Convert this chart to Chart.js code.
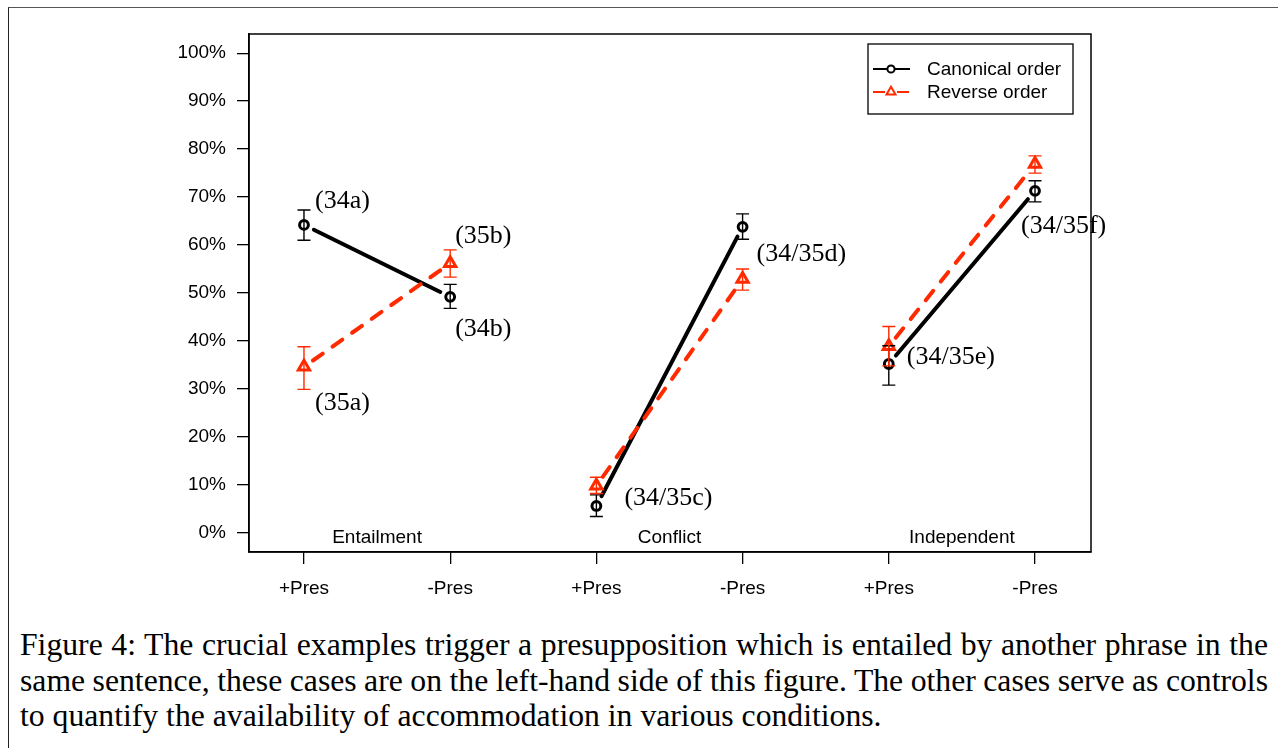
<!DOCTYPE html>
<html>
<head>
<meta charset="utf-8">
<script src="https://cdn.jsdelivr.net/npm/chart.js@4.4.1/dist/chart.umd.min.js"></script>
<style>
  html, body { margin: 0; padding: 0; background: #fff; width: 1278px; height: 748px; overflow: hidden; }
  #frame { position: absolute; left: 8px; top: 7px; width: 1300px; height: 800px;
           border-left: 1.5px solid #222; border-top: 1.5px solid #555; }
  #wrap { position: absolute; left: 0; top: 0; width: 1278px; height: 620px; }
  #cap { position: absolute; left: 20px; top: 627px; width: 1248px;
         font-family: "Liberation Serif", "Times New Roman", serif; font-size: 31.7px;
         line-height: 35.5px; color: #000; }
  #cap .j { text-align: justify; text-align-last: justify; word-spacing: -4px; }
</style>
</head>
<body>
<div id="frame"></div>
<div id="wrap"><canvas id="c" width="1278" height="620"></canvas></div>
<div id="cap">
  <div class="j">Figure 4: The crucial examples trigger a presupposition which is entailed by another phrase in the</div>
  <div class="j">same sentence, these cases are on the left-hand side of this figure. The other cases serve as controls</div>
  <div>to quantify the availability of accommodation in various conditions.</div>
</div>
<script>
// ---- data ----
const categories = ['+Pres', '-Pres', '+Pres', '-Pres', '+Pres', '-Pres'];
const groupNames = ['Entailment', 'Conflict', 'Independent'];
const seriesNames = ['Canonical order', 'Reverse order'];
const canonical     = [64.2, 49.2, 5.6, 63.8, 35.2, 71.3];
const canonicalLow  = [61.0, 46.8, 3.4, 61.2, 30.8, 69.0];
const canonicalHigh = [67.3, 51.8, 7.9, 66.5, 39.0, 73.4];
const reverse       = [34.6, 56.2, 9.8, 52.9, 38.9, 76.9];
const reverseLow    = [29.9, 53.3, 8.2, 50.6, 34.8, 75.0];
const reverseHigh   = [38.8, 59.0, 11.6, 55.0, 43.0, 78.6];
const yTickValues = [0, 10, 20, 30, 40, 50, 60, 70, 80, 90, 100];
const canonicalLabels = ['(34a)', '(34b)', '(34/35c)', '(34/35d)', '(34/35e)', '(34/35f)'];
const reverseLabels   = ['(35a)', '(35b)', null, null, null, null];
const segments = [[0, 1], [2, 3], [4, 5]];

// ---- styles ----
const RED = '#ff2a00';
const BLACK = '#000000';
const SANS = '"Liberation Sans", Arial, Helvetica, sans-serif';
const SERIF = '"Liberation Serif", "Times New Roman", serif';
const canonicalLabelOffsets = [[11, -17], [5, 39], [28, -1], [14, 34], [18, 0], [-14, 42]];
const reverseLabelOffsets   = [[11, 43], [5, -20], null, null, null, null];

const toXY = arr => arr.map((v, i) => ({ x: i + 1, y: v }));

function trimmedSegment(ctx, p0, p1, trim) {
  const dx = p1.x - p0.x, dy = p1.y - p0.y;
  const len = Math.sqrt(dx * dx + dy * dy);
  const ux = dx / len, uy = dy / len;
  ctx.beginPath();
  ctx.moveTo(p0.x + ux * trim, p0.y + uy * trim);
  ctx.lineTo(p1.x - ux * trim, p1.y - uy * trim);
  ctx.stroke();
}

const figurePlugin = {
  id: 'figure',
  beforeDatasetsDraw(chart) {
    const { ctx, scales: { x, y } } = chart;
    const series = [
      { vals: canonical, color: BLACK, dash: [] },
      { vals: reverse, color: RED, dash: [12, 12] }
    ];
    ctx.save();
    series.forEach(s => {
      ctx.strokeStyle = s.color;
      ctx.lineWidth = 4;
      ctx.lineCap = 'round';
      ctx.setLineDash(s.dash);
      segments.forEach(([a, b]) => {
        const p0 = { x: x.getPixelForValue(a + 1), y: y.getPixelForValue(s.vals[a]) };
        const p1 = { x: x.getPixelForValue(b + 1), y: y.getPixelForValue(s.vals[b]) };
        trimmedSegment(ctx, p0, p1, 11);
      });
    });
    ctx.restore();
  },
  afterDatasetsDraw(chart) {
    const { ctx, scales: { x, y } } = chart;
    ctx.save();
    // error bars
    const bars = [
      { lo: canonicalLow, hi: canonicalHigh, color: BLACK },
      { lo: reverseLow, hi: reverseHigh, color: RED }
    ];
    bars.forEach(b => {
      ctx.strokeStyle = b.color;
      ctx.lineWidth = 1.4;
      ctx.setLineDash([]);
      ctx.lineCap = 'butt';
      b.lo.forEach((lo, i) => {
        const px = x.getPixelForValue(i + 1);
        const y0 = y.getPixelForValue(lo), y1 = y.getPixelForValue(b.hi[i]);
        ctx.beginPath();
        ctx.moveTo(px, y0); ctx.lineTo(px, y1);
        ctx.moveTo(px - 6.5, y0); ctx.lineTo(px + 6.5, y0);
        ctx.moveTo(px - 6.5, y1); ctx.lineTo(px + 6.5, y1);
        ctx.stroke();
      });
    });
    // point labels
    ctx.fillStyle = '#000';
    ctx.font = '26px ' + SERIF;
    ctx.textAlign = 'left';
    ctx.textBaseline = 'alphabetic';
    canonicalLabels.forEach((t, i) => {
      if (!t) return;
      const o = canonicalLabelOffsets[i];
      ctx.fillText(t, x.getPixelForValue(i + 1) + o[0], y.getPixelForValue(canonical[i]) + o[1]);
    });
    reverseLabels.forEach((t, i) => {
      if (!t) return;
      const o = reverseLabelOffsets[i];
      ctx.fillText(t, x.getPixelForValue(i + 1) + o[0], y.getPixelForValue(reverse[i]) + o[1]);
    });
    // group labels
    ctx.font = '19px ' + SANS;
    ctx.textAlign = 'center';
    groupNames.forEach((g, k) => {
      ctx.fillText(g, x.getPixelForValue(2 * k + 1.5), y.getPixelForValue(0) + 10);
    });
    ctx.restore();
  },
  afterDraw(chart) {
    const { ctx, chartArea: ca } = chart;
    ctx.save();
    // plot box
    ctx.strokeStyle = '#000';
    ctx.lineWidth = 1.5;
    ctx.strokeRect(ca.left, ca.top, ca.right - ca.left, ca.bottom - ca.top);
    // legend
    const lx = ca.right - 223, ly = ca.top + 10, lw = 205, lh = 70;
    ctx.lineWidth = 1.3;
    ctx.strokeRect(lx, ly, lw, lh);
    const rows = [
      { name: seriesNames[0], color: BLACK, dash: [], marker: 'circle', yy: ly + 25 },
      { name: seriesNames[1], color: RED, dash: [12, 12], marker: 'triangle', yy: ly + 48 }
    ];
    rows.forEach(r => {
      ctx.strokeStyle = r.color;
      ctx.lineWidth = 2;
      ctx.setLineDash(r.dash);
      ctx.beginPath();
      ctx.moveTo(lx + 5, r.yy); ctx.lineTo(lx + 42, r.yy);
      ctx.stroke();
      ctx.setLineDash([]);
      const cx = lx + 23;
      ctx.beginPath();
      if (r.marker === 'circle') {
        ctx.arc(cx, r.yy, 3.6, 0, Math.PI * 2);
      } else {
        const rr = 5.2;
        ctx.moveTo(cx, r.yy - rr);
        ctx.lineTo(cx + rr * 0.866, r.yy + rr * 0.5);
        ctx.lineTo(cx - rr * 0.866, r.yy + rr * 0.5);
        ctx.closePath();
      }
      ctx.fillStyle = '#fff';
      ctx.fill();
      ctx.stroke();
      ctx.fillStyle = '#000';
      ctx.font = '19px ' + SANS;
      ctx.textAlign = 'left';
      ctx.textBaseline = 'middle';
      ctx.fillText(r.name, lx + 59, r.yy + 1);
    });
    ctx.restore();
  }
};

new Chart(document.getElementById('c'), {
  type: 'scatter',
  data: {
    datasets: [
      {
        label: seriesNames[0],
        data: toXY(canonical),
        showLine: false,
        pointStyle: 'circle',
        pointRadius: 4.4,
        pointBorderWidth: 3,
        pointBorderColor: BLACK,
        pointBackgroundColor: 'rgba(255,255,255,0)'
      },
      {
        label: seriesNames[1],
        data: toXY(reverse),
        showLine: false,
        pointStyle: 'triangle',
        pointRadius: 6.5,
        pointBorderWidth: 3,
        pointBorderColor: RED,
        pointBackgroundColor: 'rgba(255,255,255,0)'
      }
    ]
  },
  options: {
    responsive: false,
    animation: false,
    devicePixelRatio: 1,
    layout: { padding: { left: 0, top: 34, right: 187, bottom: 0 } },
    plugins: { legend: { display: false }, tooltip: { enabled: false } },
    scales: {
      x: {
        type: 'linear',
        min: 0.624,
        max: 6.383,
        afterBuildTicks: s => { s.ticks = categories.map((_, i) => ({ value: i + 1 })); },
        afterFit: s => { s.height = 68; },
        ticks: {
          autoSkip: false, maxRotation: 0, padding: 13,
          color: '#000', font: { family: SANS, size: 19 },
          callback: v => categories[Math.round(v) - 1]
        },
        grid: { drawOnChartArea: false, drawTicks: true, tickLength: 12, color: '#000', lineWidth: 1.3 },
        border: { display: true, color: '#000', width: 1.5 }
      },
      y: {
        type: 'linear',
        min: -4,
        max: 104,
        afterBuildTicks: s => { s.ticks = yTickValues.map(v => ({ value: v })); },
        afterFit: s => { s.width = 249; },
        ticks: {
          padding: 11,
          color: '#000', font: { family: SANS, size: 19 },
          callback: v => v + '%'
        },
        grid: { drawOnChartArea: false, drawTicks: true, tickLength: 12, color: '#000', lineWidth: 1.3 },
        border: { display: true, color: '#000', width: 1.5 }
      }
    }
  },
  plugins: [figurePlugin]
});
</script>
</body>
</html>
